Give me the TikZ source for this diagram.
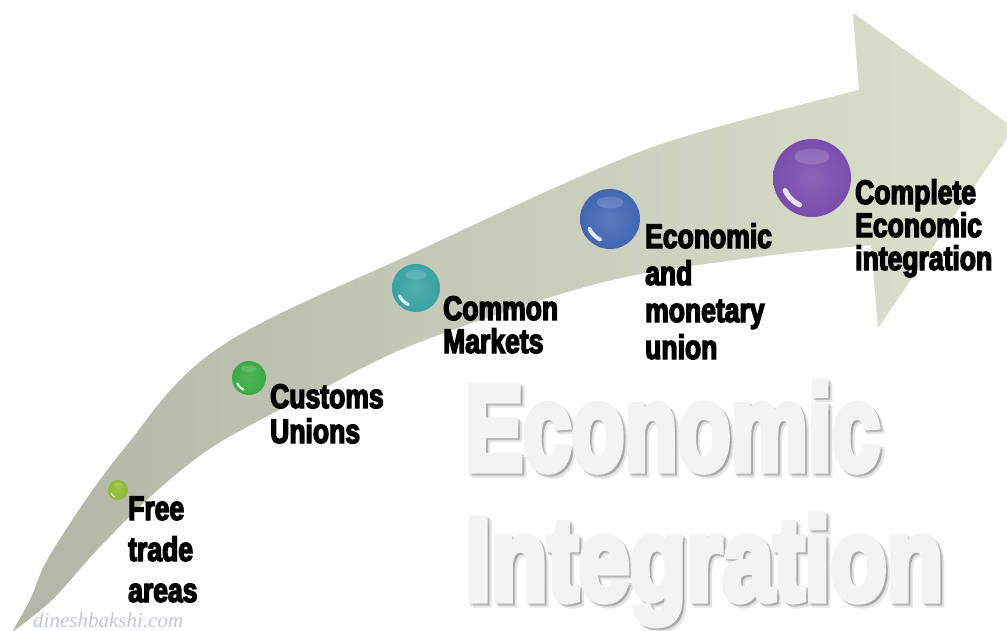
\documentclass[tikz,border=0pt]{standalone}
\usepackage{fontspec}
\setmainfont{Liberation Sans}
\newfontfamily\labelfont{Liberation Sans Bold}[FakeStretch=0.78, FakeBold=4]
\newfontfamily\bigfont{Liberation Sans Bold}[FakeBold=6]
\newfontfamily\wmfont{Liberation Serif Italic}
\usetikzlibrary{calc}
\definecolor{arrowL}{HTML}{B3B5A6}
\definecolor{arrowM}{HTML}{CACFB9}
\definecolor{arrowR}{HTML}{DCE2CE}
\definecolor{sYG}{HTML}{8CB92D}
\definecolor{sG}{HTML}{34A83E}
\definecolor{sT}{HTML}{34A0A0}
\definecolor{sB}{HTML}{3E62B0}
\definecolor{sP}{HTML}{7648AA}
\definecolor{bigtext}{HTML}{F3F3F3}
\definecolor{wmark}{HTML}{C2C8D6}
\colorlet{sphA}{white}\colorlet{sphB}{gray}\colorlet{sphC}{black}
\pgfdeclareradialshading[sphA,sphB,sphC]{sphereshade}{\pgfpoint{0bp}{0bp}}{color(0bp)=(sphA); color(30bp)=(sphB); color(43bp)=(sphB); color(50bp)=(sphC)}
\tikzset{
  sphere/.style 2 args={circle, inner sep=0pt, minimum size={2*#2 pt},
    /utils/exec={\colorlet{sphA}{#1!85!white}\colorlet{sphB}{#1}\colorlet{sphC}{#1!60!black}},
    shading=sphereshade,
    path picture={
      \draw[white, opacity=0.85, line width={0.13*#2 pt}, line cap=round]
        ([shift={(205:{0.76*#2 pt})}]path picture bounding box.center)
        arc[start angle=205, end angle=245, radius={0.76*#2 pt}];
      \fill[white, opacity=0.15]
        ([shift={(0pt,{0.55*#2 pt})}]path picture bounding box.center)
        ellipse[x radius={0.45*#2 pt}, y radius={0.2*#2 pt}];
    }},
  lbl/.style={align=left, inner sep=0pt, anchor=base west, text=black,
    font=\labelfont\fontsize{34}{#1}\selectfont},
  bigword/.style={inner sep=0pt, anchor=base west, text=bigtext},
  bigshadow/.style={inner sep=0pt, anchor=base west, text=black, opacity=#1}
}
\begin{document}
\begin{tikzpicture}[x=1pt, y=-1pt]
\useasboundingbox (0,0) rectangle (1007,631);
\clip (0,0) rectangle (1007,631);
\fill[white] (0,0) rectangle (1007,631);
% arrow
\shade[left color=arrowL, middle color=arrowM, right color=arrowR]
  plot[smooth, tension=0.6] coordinates {(12,632) (30,600) (53,550) (123,450) (220,347) (420,250) (600,168) (700,132) (859,90)}
  -- (853,13) -- (1014,128) -- (878,328) -- (871,245)
  -- plot[smooth, tension=0.6] coordinates {(871,245) (750,258) (600,283) (420,342) (320,390) (260,420) (205,452) (150,497) (97,550) (52,600) (12,632)}
  -- cycle;
% big title with soft shadow
\node[bigshadow=0.10] (bigAs2) at (469,474) {\resizebox{415pt}{88pt}{\bigfont Economic}};
\node[bigshadow=0.18] (bigAs1) at (467,472) {\resizebox{415pt}{88pt}{\bigfont Economic}};
\node[bigword] (bigA) at (465,470) {\resizebox{415pt}{88pt}{\bigfont Economic}};
\node[bigshadow=0.10] (bigBs2) at (469,604) {\resizebox{478pt}{85pt}{\bigfont Integration}};
\node[bigshadow=0.18] (bigBs1) at (467,602) {\resizebox{478pt}{85pt}{\bigfont Integration}};
\node[bigword] (bigB) at (465,600) {\resizebox{478pt}{85pt}{\bigfont Integration}};
% spheres
\node[sphere={sYG}{10}] (s1) at (118,490) {};
\node[sphere={sG}{17}] (s2) at (249,378) {};
\node[sphere={sT}{24}] (s3) at (416,288) {};
\node[sphere={sB}{30}] (s4) at (610,219) {};
\node[sphere={sP}{39}] (s5) at (812,178) {};
% labels (anchor = baseline of last line)
\node[lbl=41] (l1) at (128,602) {Free\\trade\\areas};
\node[lbl=35] (l2) at (270,443) {Customs\\Unions};
\node[lbl=33] (l3) at (443,353) {Common\\Markets};
\node[lbl=37] (l4) at (645,359) {Economic\\and\\monetary\\union};
\node[lbl=33] (l5) at (855,270) {Complete\\Economic\\integration};
% watermark
\node[inner sep=0pt, anchor=base west, text=wmark] (wm) at (33,627) {\resizebox{150pt}{!}{\wmfont dineshbakshi.com}};
\end{tikzpicture}
\end{document}
